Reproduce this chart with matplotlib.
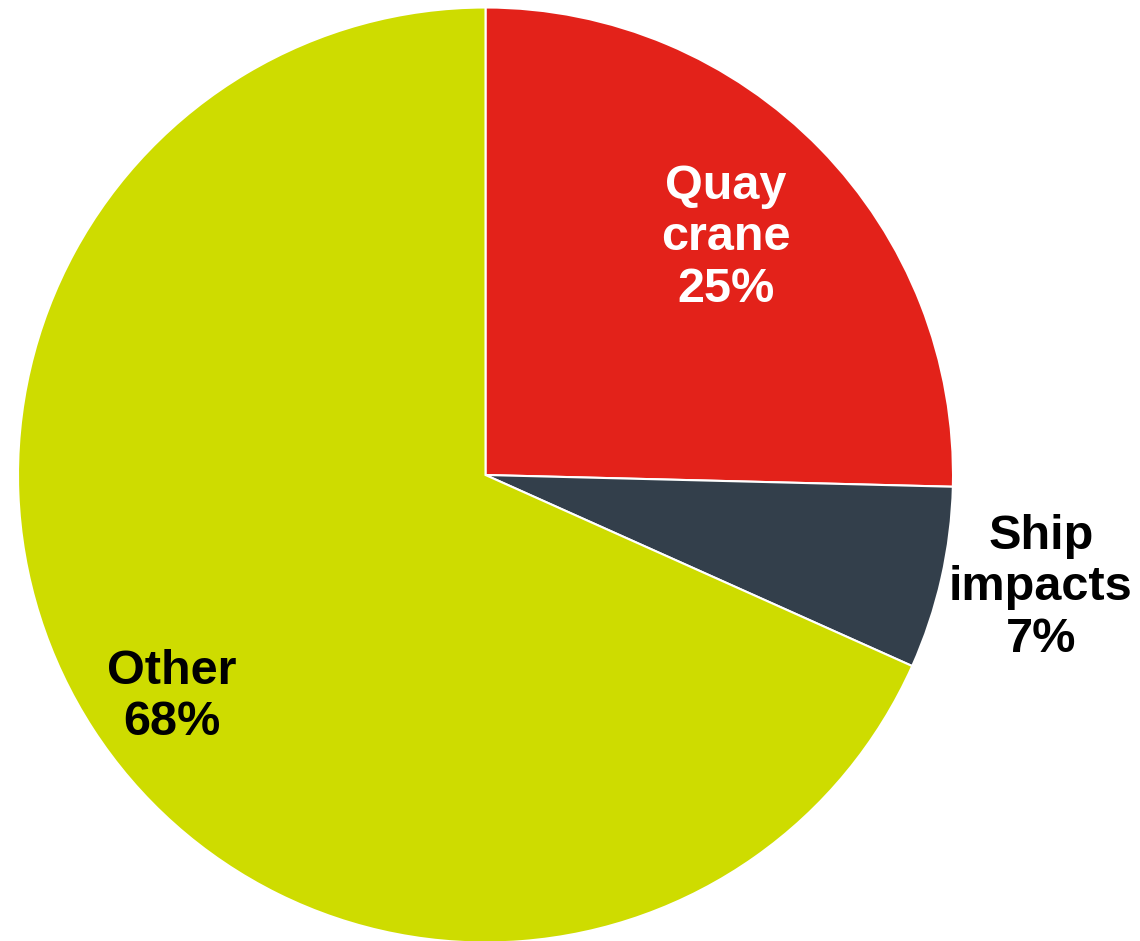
import matplotlib
matplotlib.use("Agg")
import matplotlib.pyplot as plt

categories = ["Quay\ncrane", "Ship\nimpacts", "Other"]
values = [25.4, 6.3, 68.3]
pct_labels = ["25%", "7%", "68%"]
colors = ["#E3221A", "#333F4B", "#CEDC00"]
text_colors = ["white", "black", "black"]

W, H = 1140, 941
fig = plt.figure(figsize=(W / 100, H / 100), dpi=100)
ax = fig.add_axes([0, 0, 1, 1])

ax.pie(values, colors=colors, startangle=90, counterclock=False, radius=1.0,
       wedgeprops=dict(edgecolor="white", linewidth=1.5))

cx, cy, R = 485.5, 475.0, 467.5  # pixels (from top)
ax.set_aspect("auto")
ax.set_xlim(-cx / R, (W - cx) / R)
ax.set_ylim(-(H - cy) / R, cy / R)
ax.axis("off")

label_px = [(726, 238), (1041, 588), (172, 697)]
for cat, pct, tc, (px, py) in zip(categories, pct_labels, text_colors, label_px):
    ax.text((px - cx) / R, (cy - py) / R, f"{cat}\n{pct}", ha="center", va="center",
            color=tc, fontsize=35, fontweight="bold", family="Liberation Sans",
            linespacing=1.18)

fig.savefig("out.png", dpi=100)
